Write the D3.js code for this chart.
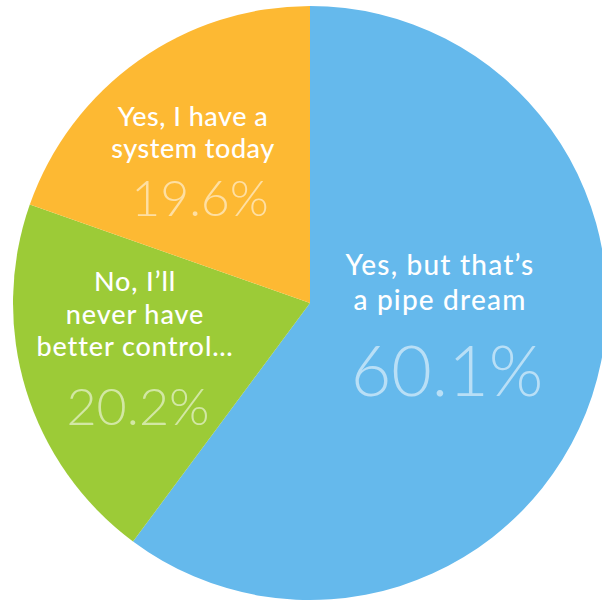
<!DOCTYPE html>
<html>
<head>
<meta charset="utf-8">
<script src="https://cdn.jsdelivr.net/npm/d3@7"></script>
<style>
  html, body { margin: 0; padding: 0; background: #fff; }
  svg { display: block; }
</style>
</head>
<body>
<svg id="chart" width="602" height="604"></svg>
<script>
// Survey answers, clockwise from 12 o'clock
const categories = ["pipe", "never", "today"];
const values = [60.1, 20.2, 19.6];
const valueLabels = ["60.1%", "20.2%", "19.6%"];
const labelLines = [
  ["Yes, but that\u2019s", "a pipe dream"],
  ["No, I\u2019ll", "never have", "better control\u2026"],
  ["Yes, I have a", "system today"]
];
const colors = ["#65b9ec", "#9ccb37", "#fdb933"];

// Label layout: text block anchor, line height, sizes, tracking
const layout = {
  pipe:  { x: 440, y: 275, lh: 35, fs: 28, ls: 1.2, px: 447, py: 396, pfs: 70, pls: 0 },
  never: { x: 135, y: 291, lh: 32.5, fs: 27, ls: 0.9, px: 138, py: 425, pfs: 52, pls: 0 },
  today: { x: 193, y: 126, lh: 32, fs: 27, ls: 0.5, px: 200, py: 216, pfs: 50, pls: 0 }
};

const cx = 310, cy = 303, radius = 297;
const svg = d3.select("#chart");
const g = svg.append("g").attr("transform", `translate(${cx},${cy})`);

const pie = d3.pie().sort(null).value(d => d.value);
const arc = d3.arc().innerRadius(0).outerRadius(radius);

const data = categories.map((c, i) => ({ key: c, value: values[i], color: colors[i], label: valueLabels[i], lines: labelLines[i] }));
const arcs = pie(data);

g.selectAll("path.slice")
  .data(arcs)
  .join("path")
  .attr("class", "slice")
  .attr("d", arc)
  .attr("fill", d => d.data.color);

const labels = svg.selectAll("g.label")
  .data(arcs)
  .join("g")
  .attr("class", "label");

labels.each(function(d) {
  const L = layout[d.data.key];
  const sel = d3.select(this);
  sel.selectAll("text.line")
    .data(d.data.lines)
    .join("text")
    .attr("class", "line")
    .attr("x", L.x)
    .attr("y", (t, i) => L.y + i * L.lh)
    .attr("text-anchor", "middle")
    .attr("font-family", "Lato, 'Open Sans', sans-serif")
    .attr("font-size", L.fs)
    .attr("font-weight", 500)
    .attr("letter-spacing", L.ls)
    .attr("fill", "#ffffff")
    .text(t => t);
  sel.append("text")
    .attr("class", "pct")
    .attr("x", L.px)
    .attr("y", L.py)
    .attr("text-anchor", "middle")
    .attr("font-family", "Lato, 'Open Sans', sans-serif")
    .attr("font-size", L.pfs)
    .attr("font-weight", 300)
    .attr("letter-spacing", L.pls)
    .attr("fill", "#ffffff")
    .attr("fill-opacity", 0.55)
    .text(d.data.label);
});
</script>
</body>
</html>
